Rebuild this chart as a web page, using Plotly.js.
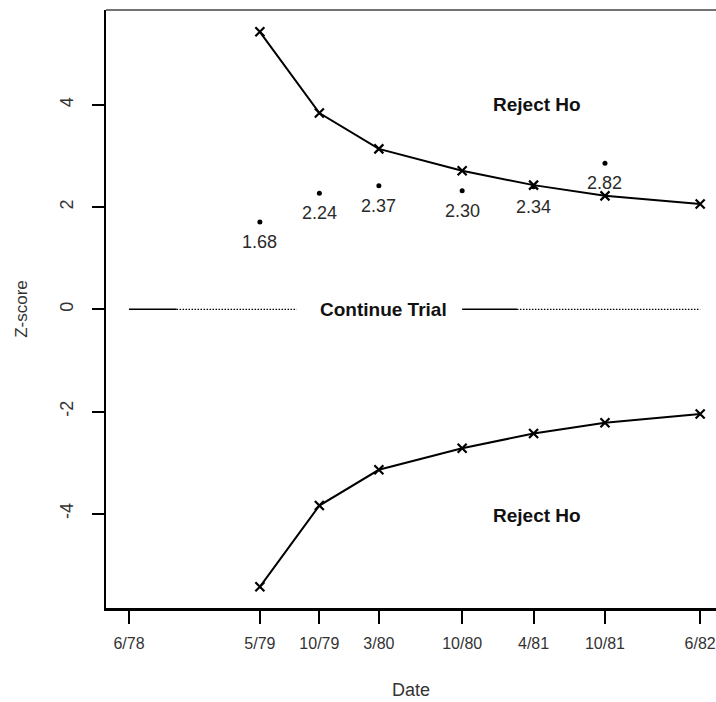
<!DOCTYPE html>
<html>
<head>
<meta charset="utf-8">
<script src="https://cdn.plot.ly/plotly-3.0.1.min.js"></script>
<style>html,body{margin:0;padding:0;background:#fff;}#chart{width:716px;height:702px;}</style>
</head>
<body>
<div id="chart"></div>
<script>
// Months since 6/78
const tickMonths = [0, 11, 16, 21, 28, 34, 40, 48];
const tickLabels = ["6/78", "5/79", "10/79", "3/80", "10/80", "4/81", "10/81", "6/82"];

// Analysis dates (months since 6/78)
const analysisMonths = [11, 16, 21, 28, 34, 40, 48];
const upperBound = [5.43, 3.84, 3.14, 2.71, 2.43, 2.22, 2.06];
const lowerBound = [-5.43, -3.84, -3.14, -2.72, -2.43, -2.22, -2.05];

// Observed Z statistics
const observedMonths = [11, 16, 21, 28, 34, 40];
const observedZ = [1.71, 2.27, 2.42, 2.32, 2.40, 2.86];
const observedLabels = ["1.68", "2.24", "2.37", "2.30", "2.34", "2.82"];

// "Continue Trial" reference line pieces at Z = 0
const solidPieceA = [0, 4];
const dottedPieceA = [4, 14.1];
const solidPieceB = [28, 32.6];
const dottedPieceB = [32.6, 48];

const regionTexts = ["Reject Ho", "Continue Trial", "Reject Ho"];
const regionX = [34.3, 21.4, 34.3];
const regionY = [4.0, 0, -4.03];

const traces = [
  {x: analysisMonths, y: upperBound, mode: "lines+markers", type: "scatter",
   line: {color: "#000", width: 2},
   marker: {symbol: "x-thin", size: 9, color: "#000", line: {color: "#000", width: 2.2}}},
  {x: analysisMonths, y: lowerBound, mode: "lines+markers", type: "scatter",
   line: {color: "#000", width: 2},
   marker: {symbol: "x-thin", size: 9, color: "#000", line: {color: "#000", width: 2.2}}},
  {x: observedMonths, y: observedZ, mode: "markers", type: "scatter",
   marker: {symbol: "circle", size: 5, color: "#000"}},
  {x: solidPieceA, y: [0, 0], mode: "lines", line: {color: "#000", width: 1.4}},
  {x: dottedPieceA, y: [0, 0], mode: "lines", line: {color: "#000", width: 1.2, dash: "1.5px,1.5px"}},
  {x: solidPieceB, y: [0, 0], mode: "lines", line: {color: "#000", width: 1.4}},
  {x: dottedPieceB, y: [0, 0], mode: "lines", line: {color: "#000", width: 1.2, dash: "1.5px,1.5px"}}
];

const annotations = [];
observedMonths.forEach((m, i) => {
  annotations.push({x: m, y: observedZ[i], text: observedLabels[i], showarrow: false,
    yshift: -20, font: {family: "Liberation Sans, Arial, sans-serif", size: 18, color: "#2a2a2a"}});
});
regionTexts.forEach((t, i) => {
  annotations.push({x: regionX[i], y: regionY[i], text: "<b>" + t + "</b>", showarrow: false,
    bgcolor: i === 1 ? "#fff" : "rgba(0,0,0,0)",
    font: {family: "Liberation Sans, Arial, sans-serif", size: 19, color: "#111"}});
});

const layout = {
  width: 716, height: 702,
  margin: {l: 106, r: 0, t: 10, b: 94},
  paper_bgcolor: "#fff", plot_bgcolor: "#fff",
  showlegend: false,
  xaxis: {
    range: [-1.93, 49.33], tickvals: tickMonths, ticktext: tickLabels,
    ticks: "outside", ticklen: 13, tickwidth: 2, tickcolor: "#000",
    showline: true, linecolor: "#000", linewidth: 2.5,
    showgrid: false, zeroline: false, ticklabelstandoff: 6,
    ticklabeloverflow: "allow",
    tickfont: {family: "Liberation Sans, Arial, sans-serif", size: 16, color: "#333"},
    title: {text: "Date", standoff: 33, font: {family: "Liberation Sans, Arial, sans-serif", size: 18, color: "#333"}}
  },
  yaxis: {
    range: [-5.845, 5.857], tickvals: [-4, -2, 0, 2, 4], ticktext: ["-4", "-2", "0", "2", "4"],
    tickangle: -90,
    ticks: "outside", ticklen: 12, tickwidth: 2, tickcolor: "#000",
    showline: true, linecolor: "#000", linewidth: 2.5,
    showgrid: false, zeroline: false, ticklabelstandoff: 11,
    tickfont: {family: "Liberation Sans, Arial, sans-serif", size: 18, color: "#333"},
    title: {text: "Z-score", standoff: 26, font: {family: "Liberation Sans, Arial, sans-serif", size: 17, color: "#333"}}
  },
  shapes: [{type: "line", xref: "paper", yref: "paper", x0: 0, x1: 1, y0: 1, y1: 1,
            line: {color: "#444", width: 1.5}}],
  annotations: annotations
};

Plotly.newPlot("chart", traces, layout, {displayModeBar: false, staticPlot: true});
</script>
</body>
</html>
